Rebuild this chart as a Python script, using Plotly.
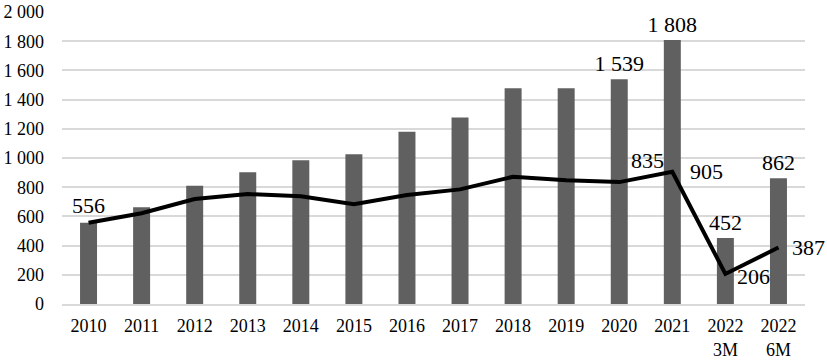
import plotly.graph_objects as go

categories = ["2010", "2011", "2012", "2013", "2014", "2015", "2016", "2017",
              "2018", "2019", "2020", "2021", "2022<br>3M", "2022<br>6M"]
bar_values = [556, 662, 810, 902, 985, 1025, 1180, 1277, 1478, 1478, 1539, 1808, 452, 862]
line_values = [556, 622, 719, 753, 738, 684, 746, 785, 872, 848, 835, 905, 206, 387]

bar_labeled = [False] * 10 + [True, True, True, True]
# line labels: index -> (xanchor, xshift, yshift)
line_label_style = {
    0: ("center", 0, 17),
    10: ("center", 28, 22),
    11: ("left", 16, 0),
    12: ("left", 10, -3),
    13: ("left", 12, 0),
}

def fmt(v):
    return f"{v:,}".replace(",", " ")

bar_text = [fmt(v) if s else "" for v, s in zip(bar_values, bar_labeled)]

FONT = "Liberation Serif"

fig = go.Figure()
fig.add_trace(go.Bar(
    x=categories, y=bar_values,
    marker=dict(color="#606060", line=dict(width=0)),
    text=bar_text, textposition="outside", cliponaxis=False,
    constraintext="none",
    textfont=dict(family=FONT, size=22, color="#000000"),
    hoverinfo="skip",
))
fig.add_trace(go.Scatter(
    x=categories, y=line_values, mode="lines",
    line=dict(color="#000000", width=4),
    hoverinfo="skip",
))

for i, (xa, xs, ys) in line_label_style.items():
    fig.add_annotation(
        x=i, y=line_values[i], xref="x", yref="y", text=fmt(line_values[i]),
        showarrow=False, xanchor=xa, yanchor="middle",
        xshift=xs, yshift=ys,
        font=dict(family=FONT, size=22, color="#000000"),
    )

fig.update_layout(
    width=827, height=361,
    margin=dict(l=62, r=22, t=12, b=57, autoexpand=False),
    paper_bgcolor="white", plot_bgcolor="white",
    showlegend=False,
    bargap=0.68,
    separators=". ",
    font=dict(family=FONT, size=18, color="#000000"),
    xaxis=dict(
        type="category", range=[-0.5, len(categories) - 0.5],
        showgrid=False, showline=True,
        linecolor="#d9d9d9", linewidth=1.5, ticks="",
        ticklabelstandoff=5,
        tickfont=dict(family=FONT, size=18, color="#000000"),
        automargin=False, fixedrange=True,
    ),
    yaxis=dict(
        range=[0, 2000], dtick=200, tickformat=",d",
        showgrid=True, gridcolor="#d9d9d9", gridwidth=1.5,
        zeroline=False, showline=False, ticks="",
        ticklabelstandoff=17,
        tickfont=dict(family=FONT, size=18, color="#000000"),
        automargin=False, fixedrange=True,
    ),
)

fig.write_html(
    "out.html",
    config={"displayModeBar": False},
    post_script="document.body.style.margin='0';document.body.style.padding='0';"
                "document.body.style.overflow='hidden';",
)
